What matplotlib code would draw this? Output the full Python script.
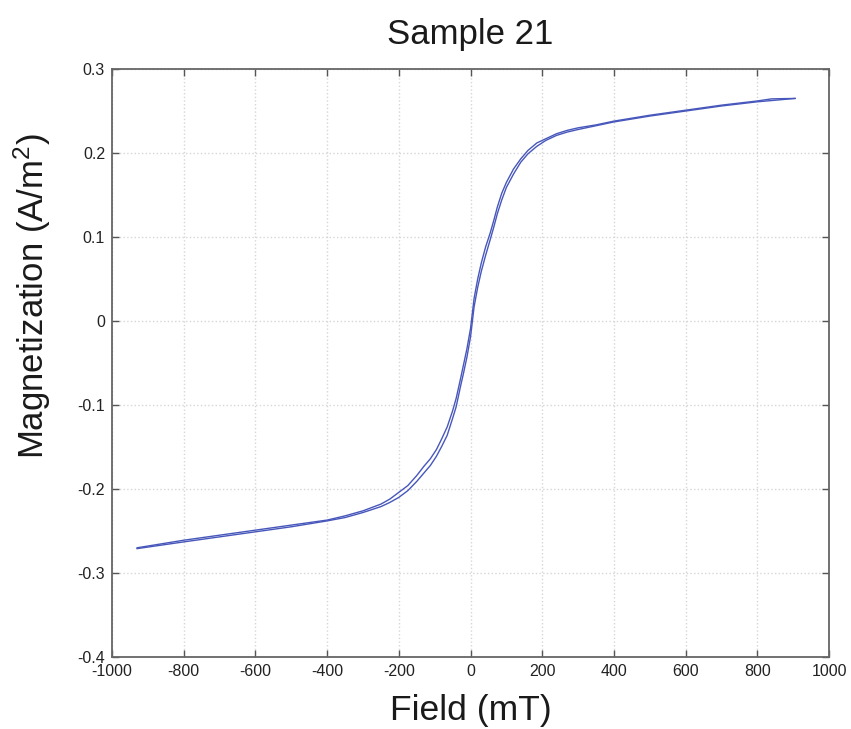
import matplotlib
matplotlib.use('Agg')
import matplotlib.pyplot as plt
from matplotlib import rc

rc('font', family='Liberation Sans', size=11.5)
rc('mathtext', fontset='custom', rm='Liberation Sans', it='Liberation Sans')

# ascending branch (negative -> positive field)
field_up = [-930, -800, -700, -600, -500, -400, -350, -300, -250, -225, -200, -175, -150, -130, -112, -95,
            -80, -65, -50, -40, -28, -20, -10, 0, 10, 20, 30, 42, 55, 65, 75, 87, 100, 120, 140, 160,
            185, 210, 240, 270, 300, 350, 400, 500, 600, 700, 800, 840, 905]
mag_up = [-0.271, -0.263, -0.257, -0.251, -0.245, -0.238, -0.234, -0.228, -0.221, -0.216, -0.210, -0.202,
          -0.191, -0.181, -0.172, -0.161, -0.149, -0.136, -0.116, -0.102, -0.078, -0.063, -0.043, -0.019,
          0.017, 0.040, 0.059, 0.078, 0.097, 0.112, 0.128, 0.144, 0.159, 0.175, 0.189, 0.199,
          0.208, 0.215, 0.221, 0.225, 0.228, 0.2325, 0.237, 0.244, 0.250, 0.256, 0.261, 0.2625, 0.265]

# descending branch (positive -> negative field)
field_down = [905, 840, 800, 700, 600, 500, 400, 350, 300, 270, 240, 210, 185, 160, 140, 120, 100, 87,
              75, 65, 55, 42, 30, 20, 10, 0, -10, -20, -28, -40, -50, -65, -80, -95, -112, -130, -150,
              -175, -200, -225, -250, -300, -350, -400, -500, -600, -700, -800, -930]
mag_down = [0.265, 0.2645, 0.262, 0.257, 0.251, 0.245, 0.238, 0.2335, 0.230, 0.227, 0.223, 0.217, 0.212,
            0.203, 0.193, 0.181, 0.165, 0.152, 0.136, 0.120, 0.105, 0.088, 0.069, 0.050, 0.027, -0.009,
            -0.033, -0.053, -0.069, -0.092, -0.107, -0.126, -0.140, -0.153, -0.164, -0.173, -0.184,
            -0.196, -0.204, -0.212, -0.218, -0.226, -0.232, -0.237, -0.243, -0.249, -0.255, -0.261, -0.270]

x_ticks = [-1000, -800, -600, -400, -200, 0, 200, 400, 600, 800, 1000]
y_ticks = [-0.4, -0.3, -0.2, -0.1, 0, 0.1, 0.2, 0.3]
y_tick_labels = ['-0.4', '-0.3', '-0.2', '-0.1', '0', '0.1', '0.2', '0.3']

fig = plt.figure(figsize=(8.51, 7.29), dpi=100)
ax = fig.add_axes([0.1316, 0.0988, 0.9742 - 0.1316, 0.9053 - 0.0988])

line_color = '#4757bb'
ax.plot(field_up, mag_up, color=line_color, lw=1.0)
ax.plot(field_down, mag_down, color=line_color, lw=1.0)

ax.set_xlim(-1000, 1000)
ax.set_ylim(-0.4, 0.3)
ax.set_xticks(x_ticks)
ax.set_xticklabels([str(t) for t in x_ticks])
ax.set_yticks(y_ticks)
ax.set_yticklabels(y_tick_labels)

ax.grid(True, color='#d6d6d6', linestyle=':', linewidth=1.0)
ax.tick_params(direction='in', length=5, width=1, top=True, right=True, colors='#555555',
               labelcolor='#222222', pad=5)
for s in ax.spines.values():
    s.set_color('#666666')
    s.set_linewidth(1.3)

ax.set_title('Sample 21', fontsize=25, pad=18, color='#1a1a1a')
ax.set_xlabel('Field (mT)', fontsize=25.5, labelpad=11, color='#1a1a1a')
ax.set_ylabel('Magnetization (A/m$^2$)', fontsize=25, color='#1a1a1a')
ax.yaxis.set_label_coords(-0.082, 0.613)

fig.savefig('out.png', dpi=100)
